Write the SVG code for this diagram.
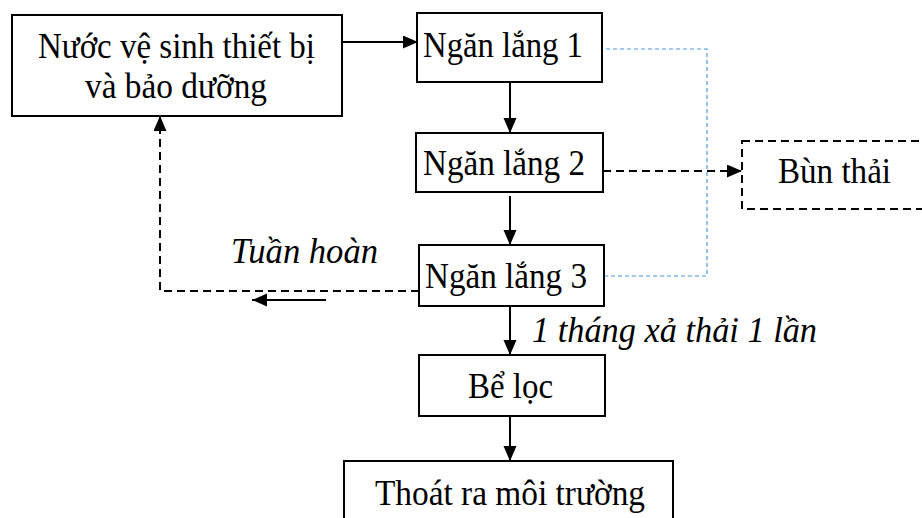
<svg xmlns="http://www.w3.org/2000/svg" width="922" height="518" viewBox="0 0 922 518">
<style>
.box{fill:#fff;stroke:#000;stroke-width:2}
.dbox{fill:#fff;stroke:#000;stroke-width:2;stroke-dasharray:8,5}
text{font-family:'Liberation Serif','DejaVu Serif','Times New Roman',Times,serif;font-size:35px;fill:#000}
.i{font-style:italic}
.ln{fill:none;stroke:#000;stroke-width:2}
.dl{fill:none;stroke:#000;stroke-width:2;stroke-dasharray:8,5}
.bl{fill:none;stroke:#4A9AE6;stroke-width:1.2;stroke-dasharray:4,3}
</style>
<defs>
<marker id="ah" markerUnits="userSpaceOnUse" markerWidth="16" markerHeight="14" refX="15" refY="6.5" orient="auto">
<path d="M0,0 L15,6.5 L0,13 z" fill="#000"/>
</marker>
</defs>
<rect width="922" height="518" fill="#fff"/>
<g id="connectors">
<line class="ln" x1="342" y1="42" x2="418" y2="42" marker-end="url(#ah)"/>
<line class="ln" x1="510" y1="82" x2="510" y2="133" marker-end="url(#ah)"/>
<line class="ln" x1="510" y1="196" x2="510" y2="245" marker-end="url(#ah)"/>
<line class="ln" x1="510" y1="306" x2="510" y2="355" marker-end="url(#ah)"/>
<line class="ln" x1="510" y1="416" x2="510" y2="461" marker-end="url(#ah)"/>
<line class="dl" x1="603" y1="171" x2="742" y2="171" marker-end="url(#ah)"/>
<polyline class="dl" points="419,291 160,291 160,116" marker-end="url(#ah)"/>
<line class="ln" x1="326" y1="300" x2="252" y2="300" marker-end="url(#ah)"/>
<polyline class="bl" points="606,49 707,49 707,276 604,276"/>
<text class="i" x="231" y="263" textLength="147" lengthAdjust="spacingAndGlyphs">Tuần hoàn</text>
<text class="i" x="532" y="342" textLength="285" lengthAdjust="spacingAndGlyphs">1 tháng xả thải 1 lần</text>
</g>
<g id="n1">
<rect class="box" x="12" y="15" width="330" height="101"/>
<text x="38" y="58" textLength="277" lengthAdjust="spacingAndGlyphs">Nước vệ sinh thiết bị</text>
<text x="85" y="98" textLength="182" lengthAdjust="spacingAndGlyphs">và bảo dưỡng</text>
</g>
<g id="n2">
<rect class="box" x="417" y="13" width="185" height="69"/>
<text x="423" y="57" textLength="160" lengthAdjust="spacingAndGlyphs">Ngăn lắng 1</text>
</g>
<g id="n3">
<rect class="box" x="416" y="133" width="187" height="59"/>
<text x="423" y="175" textLength="162" lengthAdjust="spacingAndGlyphs">Ngăn lắng 2</text>
</g>
<g id="n4">
<rect class="box" x="419" y="245" width="185" height="61"/>
<text x="425" y="288" textLength="162" lengthAdjust="spacingAndGlyphs">Ngăn lắng 3</text>
</g>
<g id="n5">
<rect class="dbox" x="742" y="141" width="200" height="68"/>
<text x="778" y="183" textLength="113" lengthAdjust="spacingAndGlyphs">Bùn thải</text>
</g>
<g id="n6">
<rect class="box" x="419" y="355" width="186" height="61"/>
<text x="468" y="398" textLength="85" lengthAdjust="spacingAndGlyphs">Bể lọc</text>
</g>
<g id="n7">
<rect class="box" x="344" y="461" width="329" height="70"/>
<text x="375" y="505" textLength="270" lengthAdjust="spacingAndGlyphs">Thoát ra môi trường</text>
</g>
</svg>
